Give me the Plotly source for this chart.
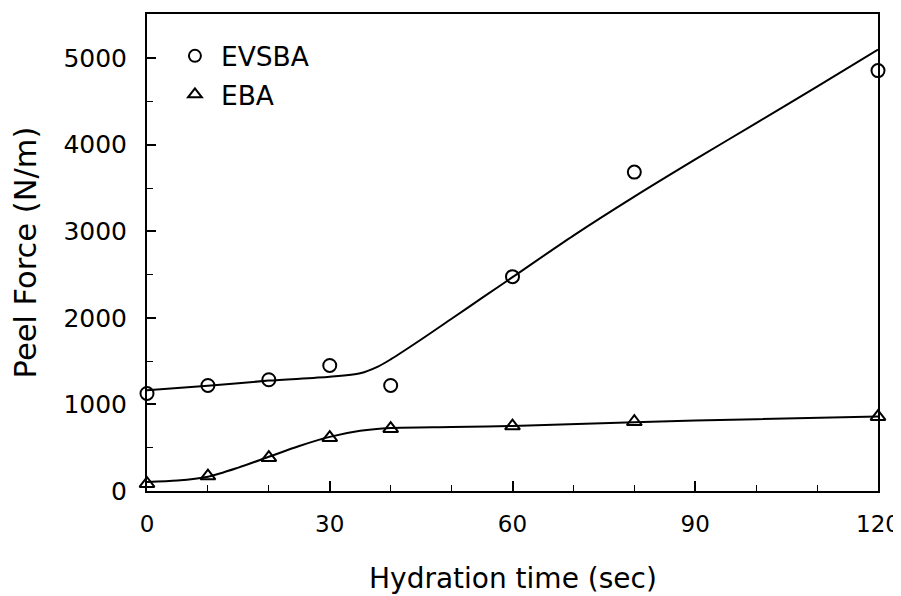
import plotly.graph_objects as go

# measured data points
time_pts = [0, 10, 20, 30, 40, 60, 80, 120]
evsba_pts = [1127, 1219, 1285, 1450, 1219, 2476, 3684, 4856]
eba_pts = [85, 173, 385, 616, 720, 750, 800, 858]

# fitted curves
evsba_curve_x = [0, 10, 20, 30, 35, 38, 40, 45, 50, 55, 60, 70, 80, 90, 100, 110, 120]
evsba_curve_y = [1165, 1215, 1275, 1320, 1360, 1440, 1520, 1750, 1990, 2230, 2470, 2950, 3400, 3830, 4250, 4670, 5100]
eba_curve_x = [0, 5, 10, 15, 20, 25, 30, 35, 40, 50, 60, 80, 100, 120]
eba_curve_y = [105, 120, 165, 270, 395, 520, 625, 695, 728, 740, 752, 795, 830, 862]

x_ticks = [0, 30, 60, 90, 120]
y_ticks = [0, 1000, 2000, 3000, 4000, 5000]

x_title = "Hydration time (sec)"
y_title = "Peel Force (N/m)"

FONT = "DejaVu Sans, Liberation Sans, Arial, sans-serif"

fig = go.Figure()
fig.add_trace(go.Scatter(x=evsba_curve_x, y=evsba_curve_y, mode="lines",
                         line=dict(color="black", width=2, shape="spline", smoothing=0.8),
                         showlegend=False, hoverinfo="skip"))
fig.add_trace(go.Scatter(x=eba_curve_x, y=eba_curve_y, mode="lines",
                         line=dict(color="black", width=2, shape="spline", smoothing=0.8),
                         showlegend=False, hoverinfo="skip"))
fig.add_trace(go.Scatter(x=time_pts, y=evsba_pts, mode="markers", name="EVSBA",
                         legendgroup="a",
                         marker=dict(symbol="circle-open", size=13, color="black",
                                     line=dict(width=2, color="black")),
                         cliponaxis=False))
fig.add_trace(go.Scatter(x=time_pts, y=eba_pts, mode="markers", name="EBA",
                         legendgroup="b",
                         marker=dict(symbol="triangle-up-open", size=13, color="black",
                                     line=dict(width=2, color="black")),
                         cliponaxis=False))

# page body has an 8px margin, so the figure is sized/offset to compensate
fig.update_layout(
    width=893, height=588,
    margin=dict(l=139, r=23, t=6, b=105),
    paper_bgcolor="white", plot_bgcolor="white",
    font=dict(family=FONT, color="black", size=24),
    showlegend=True,
    legend=dict(x=0.03, y=0.962, xanchor="left", yanchor="top",
                bgcolor="rgba(0,0,0,0)", font=dict(size=26.5),
                itemsizing="constant", traceorder="grouped", tracegroupgap=1,
                itemwidth=42),
    xaxis=dict(
        range=[0, 120], tickvals=x_ticks, ticks="inside", ticklen=10, tickwidth=1.5,
        tickcolor="black", showline=True, linecolor="black", linewidth=2, mirror=True,
        showgrid=False, zeroline=False, tickfont=dict(size=23),
        ticklabelstandoff=11, automargin=False, ticklabeloverflow="allow",
        minor=dict(dtick=10, ticks="inside", ticklen=6, tickwidth=1.2, tickcolor="black", showgrid=False),
    ),
    yaxis=dict(
        range=[0, 5510], tickvals=y_ticks, ticks="inside", ticklen=9, tickwidth=1.5,
        tickcolor="black", showline=True, linecolor="black", linewidth=2, mirror=True,
        showgrid=False, zeroline=False, tickfont=dict(size=25),
        ticklabelstandoff=13, automargin=False, ticklabeloverflow="allow",
        minor=dict(dtick=500, ticks="inside", ticklen=6, tickwidth=1.2, tickcolor="black", showgrid=False),
        title=dict(text=y_title, font=dict(size=30.5), standoff=22),
    ),
    annotations=[dict(text=x_title, xref="paper", yref="paper", x=0.5, y=-0.183,
                      xanchor="center", yanchor="middle", showarrow=False,
                      font=dict(size=28))],
)

fig.write_html("out.html")
